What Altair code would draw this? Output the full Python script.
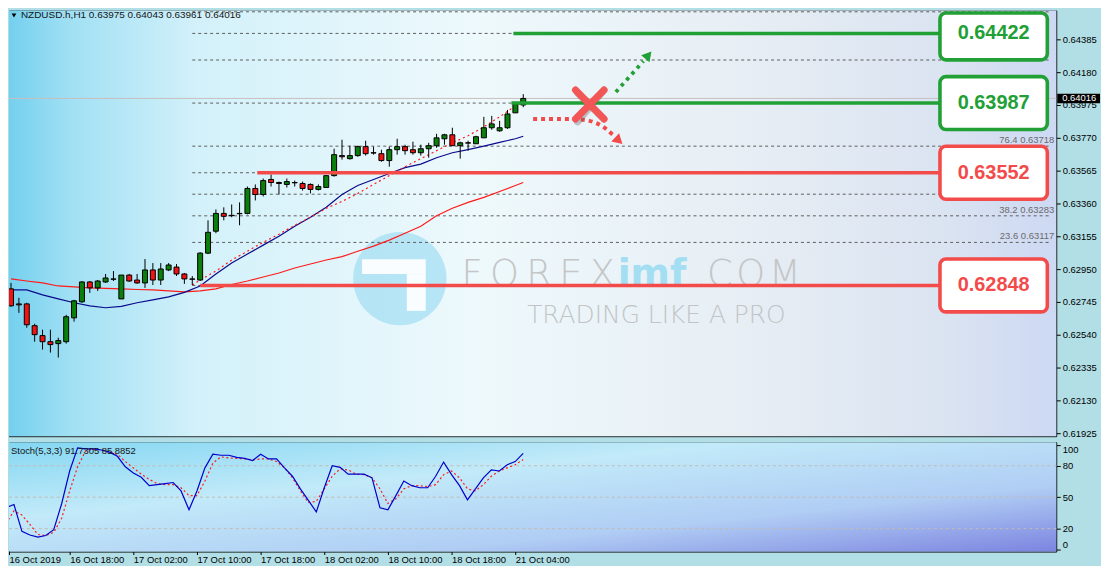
import altair as alt
import pandas as pd

# ---------------- data ----------------
HEADER = "NZDUSD.h,H1  0.63975 0.64043 0.63961 0.64016"
STOCH_TITLE = "Stoch(5,3,3) 91.7305 85.8852"

OPEN = [0.62827, 0.62733, 0.62733, 0.62597, 0.62535, 0.62497, 0.62485, 0.62497, 0.62646, 0.62746,
        0.62870, 0.62833, 0.62870, 0.62889, 0.62764, 0.62913, 0.62882, 0.62864, 0.62945, 0.62882,
        0.62945, 0.62963, 0.62920, 0.62889, 0.62882, 0.63050, 0.63187, 0.63298, 0.63286, 0.63298,
        0.63298, 0.63454, 0.63416, 0.63510, 0.63491, 0.63479, 0.63491, 0.63485, 0.63479, 0.63448,
        0.63460, 0.63534, 0.63659, 0.63640, 0.63659, 0.63715, 0.63677, 0.63671, 0.63628, 0.63696,
        0.63715, 0.63696, 0.63677, 0.63702, 0.63721, 0.63764, 0.63789, 0.63721, 0.63739, 0.63733,
        0.63770, 0.63833, 0.63814, 0.63833, 0.63926, 0.63975]
HIGH = [0.62864, 0.62771, 0.62740, 0.62609, 0.62572, 0.62572, 0.62522, 0.62665, 0.62758, 0.62876,
        0.62876, 0.62882, 0.62920, 0.62938, 0.62913, 0.62920, 0.62920, 0.63013, 0.62988, 0.62988,
        0.62988, 0.62982, 0.62926, 0.62907, 0.63056, 0.63255, 0.63323, 0.63336, 0.63354, 0.63367,
        0.63466, 0.63479, 0.63516, 0.63541, 0.63497, 0.63516, 0.63503, 0.63497, 0.63485, 0.63479,
        0.63534, 0.63702, 0.63758, 0.63721, 0.63721, 0.63752, 0.63715, 0.63696, 0.63715, 0.63764,
        0.63727, 0.63746, 0.63727, 0.63739, 0.63795, 0.63795, 0.63833, 0.63746, 0.63752, 0.63783,
        0.63901, 0.63907, 0.63876, 0.63944, 0.63994, 0.64043]
LOW = [0.62715, 0.62677, 0.62584, 0.62497, 0.62448, 0.62429, 0.62398, 0.62485, 0.62622, 0.62740,
       0.62802, 0.62814, 0.62864, 0.62876, 0.62764, 0.62870, 0.62858, 0.62833, 0.62851, 0.62851,
       0.62938, 0.62907, 0.62858, 0.62851, 0.62876, 0.63044, 0.63174, 0.63255, 0.63274, 0.63224,
       0.63292, 0.63379, 0.63404, 0.63466, 0.63416, 0.63460, 0.63466, 0.63441, 0.63423, 0.63441,
       0.63460, 0.63528, 0.63634, 0.63634, 0.63652, 0.63659, 0.63665, 0.63621, 0.63590, 0.63665,
       0.63665, 0.63665, 0.63659, 0.63646, 0.63708, 0.63727, 0.63721, 0.63640, 0.63690, 0.63733,
       0.63770, 0.63820, 0.63808, 0.63826, 0.63926, 0.63961]
CLOSE = [0.62721, 0.62727, 0.62603, 0.62541, 0.62497, 0.62479, 0.62504, 0.62653, 0.62752, 0.62870,
         0.62833, 0.62876, 0.62895, 0.62887, 0.62913, 0.62876, 0.62864, 0.62945, 0.62882, 0.62951,
         0.62976, 0.62920, 0.62889, 0.62887, 0.63050, 0.63180, 0.63298, 0.63280, 0.63284, 0.63296,
         0.63454, 0.63416, 0.63503, 0.63491, 0.63485, 0.63497, 0.63489, 0.63454, 0.63448, 0.63466,
         0.63534, 0.63665, 0.63652, 0.63659, 0.63715, 0.63671, 0.63675, 0.63628, 0.63696, 0.63715,
         0.63690, 0.63677, 0.63702, 0.63721, 0.63770, 0.63789, 0.63721, 0.63739, 0.63737, 0.63777,
         0.63833, 0.63857, 0.63833, 0.63919, 0.63982, 0.64016]

MA_BARS = [0, 2, 4, 6, 8, 10, 12, 14, 16, 18, 20, 22, 24, 26, 28, 30, 32, 34, 36, 38, 40,
           42, 44, 46, 48, 50, 52, 54, 56, 58, 60, 62, 64, 65]
MA_FAST = [0.62820, 0.62820, 0.62789, 0.62764, 0.62740, 0.62721, 0.62709, 0.62718, 0.62740, 0.62758,
           0.62777, 0.62805, 0.62845, 0.62920, 0.62988, 0.63044, 0.63100, 0.63156, 0.63218, 0.63274,
           0.63336, 0.63416, 0.63472, 0.63510, 0.63547, 0.63584, 0.63606, 0.63646, 0.63677, 0.63696,
           0.63718, 0.63742, 0.63764, 0.63780]
MA_SLOW = [0.62889, 0.62876, 0.62864, 0.62845, 0.62839, 0.62833, 0.62830, 0.62827, 0.62823, 0.62820,
           0.62814, 0.62808, 0.62814, 0.62827, 0.62854, 0.62876, 0.62901, 0.62926, 0.62957, 0.62982,
           0.63007, 0.63028, 0.63062, 0.63094, 0.63131, 0.63174, 0.63218, 0.63283, 0.63330, 0.63367,
           0.63398, 0.63435, 0.63472, 0.63491]
DOT_BARS = [23, 24, 26, 28, 30, 32, 34, 36, 38, 40, 42, 44, 46, 48, 50, 52, 54, 56, 58, 60, 62, 64, 65]
DOT_LINE = [0.62851, 0.62882, 0.62938, 0.63007, 0.63062, 0.63118, 0.63168, 0.63224, 0.63274, 0.63330,
            0.63373, 0.63423, 0.63479, 0.63534, 0.63590, 0.63640, 0.63690, 0.63739, 0.63783, 0.63839,
            0.63901, 0.63969, 0.63994]

STOCH_MAIN = [40, 43, 17.5, 14, 12, 13.5, 19, 44, 75, 97,
              96, 96, 95, 93, 89, 79, 73, 69, 61, 62,
              63, 64, 56, 38, 56, 78, 91, 90, 90, 88,
              87, 85, 91, 86.5, 86.5, 78, 70, 58, 47, 36,
              59, 80, 78.5, 72, 72, 72, 68.5, 40, 38, 51.5,
              65.5, 61, 59, 59, 70, 83.5, 71.5, 61, 47.5, 58,
              68.5, 76, 75, 81, 84, 91.73]
STOCH_SIGNAL = [25, 37, 33, 24, 14.5, 13.5, 16.5, 30, 56, 79,
                94, 96, 95, 93, 91, 84, 78, 72, 67, 63,
                62, 62, 59, 51.5, 51.5, 65.5, 82.5, 88.5, 87.5, 87,
                86.5, 85.5, 86.5, 86.5, 84, 78, 68.5, 56, 45, 46,
                58, 70, 77, 76, 72, 71.5, 68.5, 58, 44, 48.5,
                58, 61, 61, 60, 62, 71.5, 75, 68.5, 58, 56,
                62, 70, 75, 78, 81, 85.89]

PRICE_TICKS = [0.64385, 0.64180, 0.63975, 0.63770, 0.63565, 0.63360, 0.63155,
               0.62950, 0.62745, 0.62540, 0.62335, 0.62130, 0.61925]
STOCH_TICKS = [0, 20, 50, 80, 100]
STOCH_LEVELS = [20, 50, 80]
TIME_TICKS = [0, 8, 16, 24, 32, 40, 48, 56, 64]
TIME_LABELS = ["16 Oct 2019", "16 Oct 18:00", "17 Oct 02:00", "17 Oct 10:00", "17 Oct 18:00",
               "18 Oct 02:00", "18 Oct 10:00", "18 Oct 18:00", "21 Oct 04:00"]

LEVELS = [0.64422, 0.63987, 0.63552, 0.62848]
LEVEL_KIND = ["up", "up", "down", "down"]
LEVEL_FROM = [63.75, 63.5, 31.25, 24.0]

FIB_PCT = [0.0, 23.6, 38.2, 50.0, 61.8, 76.4, 100.0, 123.6, 138.2, 150.0]
FIB_PRICE = [0.62848, 0.63117, 0.63283, 0.63418, 0.63552, 0.63718, 0.63987, 0.64256, 0.64422, 0.64557]
FIB_LABELED = [23.6, 38.2, 76.4]
FIB_FROM = 23
LAST_PRICE = 0.64016

# annotation arrows (bar, price)
UP_ARROW_BAR = [76.75, 80.25]
UP_ARROW_PRICE = [0.64056, 0.64249]
DOWN_ARROW_BAR = [66.25, 70.875, 73.375, 75.125, 76.375]
DOWN_ARROW_PRICE = [0.63888, 0.63888, 0.63876, 0.63839, 0.63789]
CROSS_BAR = [71.625, 75.25]
CROSS_PRICE = [0.64069, 0.63888]

# ---------------- layout / style ----------------
W, H_MAIN, H_ST = 1053, 428, 110
X0, X1 = 0.375, 132.0
Y0, Y1 = 0.61907, 0.64565
S0, S1 = -1.8, 102.5
GREEN, RED = "#20a035", "#f34a4a"
FONT = "Liberation Sans"
BOX_L, BOX_R, BOX_HALF = 117.875, 131.5, 0.00165
THIN = "\u2009"
HAIR = "\u200a"

xs = alt.Scale(domain=[X0, X1], nice=False, zero=False)
ys = alt.Scale(domain=[Y0, Y1], nice=False, zero=False)
ss = alt.Scale(domain=[S0, S1], nice=False, zero=False)

PRICE_AXIS = alt.Axis(orient="right", values=PRICE_TICKS, format=".5f", tickSize=4,
                      labelPadding=2, domain=False, grid=False, title=None, zindex=0)
label_expr = "[" + ",".join(f"'{s}'" for s in TIME_LABELS) + "][round(datum.value/8)]"
tick_vals = [max(t, X0) for t in TIME_TICKS]
TIME_AXIS = alt.Axis(orient="bottom", values=tick_vals, labelExpr=label_expr,
                     labelAlign="left", labelPadding=0, tickSize=3, domain=False,
                     grid=False, labelFlush=False, labelOverlap=False, title=None)
STOCH_AXIS = alt.Axis(orient="right", values=STOCH_TICKS, format="d", tickSize=4,
                      labelPadding=2, domain=False, grid=False, title=None, labelFlush=7)


def X(f):
    return alt.X(f, type="quantitative", scale=xs, axis=None, title=None)


def Y(f):
    return alt.Y(f, type="quantitative", scale=ys, axis=PRICE_AXIS, title=None)


def SX(f):
    return alt.X(f, type="quantitative", scale=xs, axis=TIME_AXIS, title=None)


def SY(f):
    return alt.Y(f, type="quantitative", scale=ss, axis=STOCH_AXIS, title=None)


one = pd.DataFrame({"k": [0]})

candles = pd.DataFrame({"bar": list(range(len(OPEN))), "open": OPEN, "high": HIGH,
                        "low": LOW, "close": CLOSE})
candles["dir"] = ["up" if c >= o else "down" for o, c in zip(OPEN, CLOSE)]

ma = pd.DataFrame({"bar": MA_BARS, "fast": MA_FAST, "slow": MA_SLOW})
dot = pd.DataFrame({"bar": DOT_BARS, "v": DOT_LINE})
fib = pd.DataFrame({"pct": FIB_PCT, "price": FIB_PRICE})
fib["start"] = FIB_FROM
fib["end"] = X1
fib_lab = fib[fib["pct"].isin(FIB_LABELED)].copy()
fib_lab["label"] = [f"{p:.1f} {v:.5f}" for p, v in zip(fib_lab["pct"], fib_lab["price"])]

lev = pd.DataFrame({"price": LEVELS, "kind": LEVEL_KIND, "start": LEVEL_FROM})
lev["end"] = BOX_L
lev["color"] = [GREEN if k == "up" else RED for k in LEVEL_KIND]
lev["left"] = BOX_L
lev["right"] = BOX_R
lev["mid"] = (BOX_L + BOX_R) / 2
lev["top"] = [min(p + BOX_HALF, Y1 - 0.00016) for p in LEVELS]
lev["bot"] = [p - BOX_HALF for p in LEVELS]
lev["label"] = [f"{p:.5f}" for p in LEVELS]

main_bg = alt.Chart(one).mark_rect(
    color=alt.LinearGradient(
        gradient="linear", x1=0, y1=0, x2=1, y2=0,
        stops=[alt.GradientStop(offset=0, color="#74d0ee"),
               alt.GradientStop(offset=0.06, color="#a2e0f4"),
               alt.GradientStop(offset=0.18, color="#d3f1fa"),
               alt.GradientStop(offset=0.45, color="#eef9fc"),
               alt.GradientStop(offset=0.7, color="#e7eef4"),
               alt.GradientStop(offset=0.9, color="#dae3f1"),
               alt.GradientStop(offset=1, color="#cdd8f3")]),
    strokeWidth=0,
).encode(x=alt.value(0), x2=alt.value(W), y=alt.value(0), y2=alt.value(H_MAIN))

# watermark (decoration, pixel placed)
wm_circle = alt.Chart(one).mark_point(shape="circle", filled=True, size=8800,
                                      color="#ade2f3", opacity=0.85).encode(
    x=alt.value(393), y=alt.value(269.5))
wm_bar1 = alt.Chart(one).mark_rect(color="white", opacity=0.92).encode(
    x=alt.value(355), x2=alt.value(419), y=alt.value(250), y2=alt.value(265))
wm_bar2 = alt.Chart(one).mark_rect(color="white", opacity=0.92).encode(
    x=alt.value(400), x2=alt.value(419), y=alt.value(265), y2=alt.value(302))
wm_forex = alt.Chart(one).mark_text(text=THIN.join("FOREX"), font="DejaVu Sans", fontWeight=300,
                                    fontSize=37, color="#c4c6c8", align="left",
                                    baseline="alphabetic").encode(
    x=alt.value(455), y=alt.value(277))
wm_imf = alt.Chart(one).mark_text(text="imf", font="DejaVu Sans", fontWeight="bold",
                                  fontSize=38, color="#a3def2", align="left",
                                  baseline="alphabetic").encode(
    x=alt.value(612), y=alt.value(277))
wm_com = alt.Chart(one).mark_text(text="." + HAIR.join("COM"), font="DejaVu Sans", fontWeight=300,
                                  fontSize=37, color="#c4c6c8", align="left",
                                  baseline="alphabetic").encode(
    x=alt.value(690), y=alt.value(277))
wm_tag = alt.Chart(one).mark_text(text="TRADING LIKE A PRO", font="DejaVu Sans", fontWeight=300,
                                  fontSize=25, color="#c2c4c6", align="left",
                                  baseline="alphabetic").encode(
    x=alt.value(521), y=alt.value(314))

fib_rules = alt.Chart(fib).mark_rule(color="#5e5e5e", strokeWidth=1, strokeDash=[3, 3]).encode(
    x=X("start"), x2="end", y=Y("price"))
fib_text = alt.Chart(fib_lab).mark_text(
    align="right", baseline="bottom", dy=-1, font=FONT, fontSize=9.5, color="#6a6a6a").encode(
    x=alt.value(W - 2), y=Y("price"), text="label:N")

cur_line = alt.Chart(pd.DataFrame({"p": [LAST_PRICE]})).mark_rule(
    color="#c9bdbd", strokeWidth=1).encode(x=alt.value(0), x2=alt.value(W), y=Y("p"))

slow_line = alt.Chart(ma).mark_line(color="#ff1a1a", strokeWidth=1.2, clip=True).encode(
    x=X("bar"), y=Y("slow"))
fast_line = alt.Chart(ma).mark_line(color="#0a0a8c", strokeWidth=1.2, clip=True).encode(
    x=X("bar"), y=Y("fast"))
dot_line = alt.Chart(dot).mark_line(color="#ff1a1a", strokeWidth=1.2, strokeDash=[2, 3],
                                    clip=True).encode(x=X("bar"), y=Y("v"))

wicks = alt.Chart(candles).mark_rule(color="black", strokeWidth=1, clip=True).encode(
    x=X("bar"), y=Y("low"), y2="high")
bodies = alt.Chart(candles).mark_bar(size=5, stroke="black", strokeWidth=1, clip=True).encode(
    x=X("bar"), y=Y("open"), y2="close",
    color=alt.Color("dir:N", scale=alt.Scale(domain=["up", "down"], range=["#0b7f0b", "#f21212"]),
                    legend=None))

lev_lines = alt.Chart(lev).mark_rule(strokeWidth=3.6).encode(
    x=X("start"), x2="end", y=Y("price"), color=alt.Color("color:N", scale=None))
lev_boxes = alt.Chart(lev).mark_rect(fill="white", strokeWidth=3.6, cornerRadius=6).encode(
    x=X("left"), x2="right", y=Y("top"), y2="bot", stroke=alt.Stroke("color:N", scale=None))
lev_text = alt.Chart(lev).mark_text(font=FONT, fontWeight="bold", fontSize=20,
                                    baseline="middle", align="center").encode(
    x=X("mid"), y=Y("price"), text="label:N", color=alt.Color("color:N", scale=None))

up_df = pd.DataFrame({"bar": UP_ARROW_BAR, "p": UP_ARROW_PRICE, "i": [0, 1]})
up_line = alt.Chart(up_df).mark_line(color=GREEN, strokeWidth=3.8, strokeDash=[3.5, 4.5]).encode(
    x=X("bar"), y=Y("p"), order="i:Q")
up_head = alt.Chart(pd.DataFrame({"bar": [80.875], "p": [0.64286]})).mark_point(
    shape="triangle-up", filled=True, size=120, angle=40, color=GREEN, opacity=1).encode(
    x=X("bar"), y=Y("p"))

dn_df = pd.DataFrame({"bar": DOWN_ARROW_BAR, "p": DOWN_ARROW_PRICE, "i": list(range(5))})
dn_line = alt.Chart(dn_df).mark_line(color=RED, strokeWidth=4, strokeDash=[4, 4],
                                     interpolate="monotone").encode(
    x=X("bar"), y=Y("p"), order="i:Q")
dn_head = alt.Chart(pd.DataFrame({"bar": [77.125], "p": [0.63752]})).mark_point(
    shape="triangle-up", filled=True, size=130, angle=133, color=RED, opacity=1).encode(
    x=X("bar"), y=Y("p"))

cross_df = pd.DataFrame({"a": [CROSS_BAR[0], CROSS_BAR[0]], "b": [CROSS_BAR[1], CROSS_BAR[1]],
                         "p1": [CROSS_PRICE[0], CROSS_PRICE[1]], "p2": [CROSS_PRICE[1], CROSS_PRICE[0]]})
cross_shadow = alt.Chart(cross_df).mark_rule(color="#606060", opacity=0.35, strokeWidth=7,
                                             strokeCap="round", xOffset=2, yOffset=3).encode(
    x=X("a"), x2="b", y=Y("p1"), y2="p2")
cross = alt.Chart(cross_df).mark_rule(color="#f25656", strokeWidth=7, strokeCap="round").encode(
    x=X("a"), x2="b", y=Y("p1"), y2="p2")

head_tri = alt.Chart(one).mark_point(shape="triangle-down", filled=True, size=22,
                                     color="black", opacity=1).encode(
    x=alt.value(5), y=alt.value(5))
head_txt = alt.Chart(one).mark_text(text=HEADER, font=FONT, fontSize=10, color="#151515",
                                    align="left", baseline="middle").encode(
    x=alt.value(12), y=alt.value(5))

tag_df = pd.DataFrame({"p": [LAST_PRICE], "t": [f"{LAST_PRICE:.5f}"]})
tag_df["hi"] = tag_df["p"] + 0.00030
tag_df["lo"] = tag_df["p"] - 0.00030
tag_box = alt.Chart(tag_df).mark_rect(color="black").encode(
    x=alt.value(W + 1), x2=alt.value(W + 44), y=Y("hi"), y2="lo")
tag_txt = alt.Chart(tag_df).mark_text(font=FONT, fontSize=9.5, color="white", align="left",
                                      baseline="middle").encode(
    x=alt.value(W + 6), y=Y("p"), text="t:N")

main = alt.layer(
    main_bg, wm_circle, wm_bar1, wm_bar2, wm_forex, wm_imf, wm_com, wm_tag,
    fib_rules, fib_text, cur_line, slow_line, fast_line, dot_line, wicks, bodies,
    lev_lines, lev_boxes, lev_text, up_line, up_head, dn_line, dn_head,
    cross_shadow, cross, head_tri, head_txt, tag_box, tag_txt,
).properties(width=W, height=H_MAIN)

# ---------------- stochastic panel ----------------
st = pd.DataFrame({"bar": list(range(len(STOCH_MAIN))), "main": STOCH_MAIN, "sig": STOCH_SIGNAL})
st_bg = alt.Chart(one).mark_rect(
    color=alt.LinearGradient(
        gradient="linear", x1=0, y1=0, x2=1, y2=1,
        stops=[alt.GradientStop(offset=0, color="#84d7f2"),
               alt.GradientStop(offset=0.35, color="#c2eaf9"),
               alt.GradientStop(offset=0.7, color="#b0cdf4"),
               alt.GradientStop(offset=1, color="#7c84e0")]),
    strokeWidth=0,
).encode(x=alt.value(0), x2=alt.value(W), y=alt.value(0), y2=alt.value(H_ST))

st_levels = alt.Chart(pd.DataFrame({"v": STOCH_LEVELS})).mark_rule(
    color="#c4bab0", strokeWidth=1, strokeDash=[3, 3]).encode(
    x=alt.value(0), x2=alt.value(W), y=SY("v"))
st_sig = alt.Chart(st).mark_line(color="#ff1a1a", strokeWidth=1.2, strokeDash=[2, 2.5],
                                 clip=True).encode(x=SX("bar"), y=SY("sig"))
st_main = alt.Chart(st).mark_line(color="#0000cc", strokeWidth=1.2, clip=True).encode(
    x=SX("bar"), y=SY("main"))
st_txt = alt.Chart(one).mark_text(text=STOCH_TITLE, font=FONT, fontSize=9.5, color="#151515",
                                  align="left", baseline="middle").encode(
    x=alt.value(2), y=alt.value(9))

stoch = alt.layer(st_bg, st_levels, st_sig, st_main, st_txt).properties(width=W, height=H_ST)

chart = alt.vconcat(main, stoch, spacing=2).properties(
    padding=0, background="#b2dfe6"
).configure_view(stroke="black", strokeWidth=1).configure_axis(
    labelFont=FONT, labelFontSize=9.5, labelColor="black", tickColor="black"
)

chart.save("out.html", embed_options={"renderer": "svg", "actions": False})
